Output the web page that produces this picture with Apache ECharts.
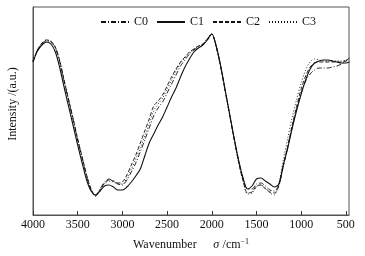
<!DOCTYPE html>
<html>
<head>
<meta charset="utf-8">
<script src="https://cdn.jsdelivr.net/npm/echarts@6/dist/echarts.min.js"></script>
<style>
  html, body { margin: 0; padding: 0; background: #fff; }
  #chart { width: 365px; height: 256px; }
</style>
</head>
<body>
<div id="chart"></div>
<script>
// wavenumber (cm-1)
const wavenumbers = [4000, 3950, 3900, 3850, 3800, 3750, 3700, 3650, 3600, 3550,
  3500, 3450, 3400, 3350, 3300, 3250, 3200, 3150, 3100, 3050,
  3000, 2950, 2900, 2850, 2800, 2750, 2700, 2650, 2600, 2550,
  2500, 2450, 2400, 2350, 2300, 2250, 2200, 2150, 2100, 2050,
  2000, 1950, 1900, 1850, 1800, 1750, 1700, 1650, 1600, 1550,
  1500, 1450, 1400, 1350, 1300, 1250, 1200, 1150, 1100, 1050,
  1000, 950, 900, 850, 800, 750, 700, 650, 600, 550,
  500, 460];

const c0 = [153, 165, 171, 174, 173, 167, 153, 133, 114, 95,
  75, 57, 39, 25, 20, 26, 33, 36, 34, 31,
  30, 35, 43, 52, 63, 75, 87, 99, 107, 113,
  122, 131, 140, 149, 155, 161, 165, 168, 170, 176,
  181, 168, 148, 124, 100, 76, 54, 36, 26, 26,
  31, 32, 29, 25, 24, 30, 49, 68, 88, 106,
  122, 134, 141, 145, 147, 147, 147, 148, 149, 151,
  154, 157];

const c1 = [153, 164, 170, 173, 171, 163, 147, 127, 108, 89,
  70, 52, 35, 24, 20, 24, 29, 30, 28, 25,
  25, 28, 33, 39, 46, 59, 72, 81, 90, 98,
  108, 118, 127, 138, 148, 156, 163, 167, 170, 175,
  181, 169, 149, 125, 101, 77, 55, 37, 26, 29,
  36, 37, 34, 31, 28, 31, 50, 67, 87, 105,
  121, 135, 146, 152, 154, 155, 155, 154, 153, 152,
  152, 153];

const c2 = [154, 165, 172, 175, 174, 168, 154, 134, 115, 96,
  76, 58, 40, 26, 19, 25, 32, 35, 34, 32,
  33, 40, 50, 60, 72, 84, 96, 109, 114, 120,
  129, 138, 146, 153, 158, 163, 166, 169, 171, 176,
  181, 168, 148, 124, 100, 76, 53, 34, 22, 23,
  29, 30, 26, 23, 22, 29, 49, 69, 90, 109,
  126, 139, 148, 152, 153, 153, 153, 153, 153, 153,
  154, 155];

const c3 = [154, 165, 172, 175, 173, 167, 153, 133, 114, 95,
  75, 57, 39, 25, 19, 24, 31, 34, 33, 31,
  31, 37, 46, 56, 67, 79, 91, 104, 111, 117,
  126, 135, 144, 152, 157, 162, 166, 169, 171, 176,
  181, 168, 148, 124, 100, 76, 53, 34, 21, 22,
  28, 30, 27, 22, 20, 31, 55, 77, 98, 116,
  132, 145, 153, 156, 155, 154, 154, 154, 154, 154,
  155, 157];

const seriesNames = ["C0", "C1", "C2", "C3"];
const xTickLabels = [4000, 3500, 3000, 2500, 2000, 1500, 1000, 500];

const chart = echarts.init(document.getElementById("chart"));

const font = "Liberation Serif";

function pairs(ys) {
  return wavenumbers.map((w, i) => [w, ys[i]]);
}

// 线型：点划线、实线、虚线、点线
const lineTypes = [[5, 2, 1, 2], "solid", [4, 2], [1, 2]];
const values = [c0, c1, c2, c3];

const option = {
  animation: false,
  grid: {
    left: 33,
    right: 16,
    top: 7,
    bottom: 41,
    outerBoundsMode: "none",
    show: true,
    borderColor: "#555",
    borderWidth: 1,
  },

  legend: {
    top: 11,
    left: 95,
    itemWidth: 28,
    itemHeight: 8,
    itemGap: 8,
    itemStyle: { opacity: 0 },
    textStyle: { fontFamily: font, fontSize: 12, color: "#111" },
    data: seriesNames,
  },

  xAxis: {
    type: "value",
    inverse: true,
    min: 465,
    max: 4000,
    splitLine: { show: false },
    axisLine: { show: true, lineStyle: { color: "#555" } },
    axisTick: {
      show: true,
      inside: true,
      length: 4,
      customValues: xTickLabels,
      lineStyle: { color: "#333" },
    },
    axisLabel: {
      customValues: xTickLabels,
      formatter: (v) => String(v),
      fontFamily: font,
      fontSize: 12,
      color: "#111",
      margin: 4,
    },
    name: "{a|Wavenumber}     {i|σ} {a|/cm}{s|−1}",
    nameLocation: "middle",
    nameGap: 23,
    nameTextStyle: {
      rich: {
        a: { fontFamily: font, fontSize: 12, color: "#111" },
        i: { fontFamily: font, fontSize: 12, fontStyle: "italic", color: "#111" },
        s: { fontFamily: font, fontSize: 8, color: "#111", verticalAlign: "top", padding: [0, 0, 6, 0] },
      },
    },
  },

  yAxis: {
    type: "value",
    min: 0,
    max: 208,
    splitLine: { show: false },
    axisTick: { show: false },
    axisLabel: { show: false },
    axisLine: { show: true, lineStyle: { color: "#555" } },
    name: "Intensity /(a.u.)",
    nameLocation: "middle",
    nameGap: 14,
    nameTextStyle: { fontFamily: font, fontSize: 12, color: "#111", padding: [0, 0, 0, 14] },
  },

  series: seriesNames.map((name, i) => ({
    name: name,
    type: "line",
    data: pairs(values[i]),
    symbol: "none",
    smooth: 0.3,
    lineStyle: { color: "#111", width: i === 1 ? 1.1 : 0.9, type: lineTypes[i] },
    itemStyle: { color: "#111" },
  })),
};

chart.setOption(option);
</script>
</body>
</html>
